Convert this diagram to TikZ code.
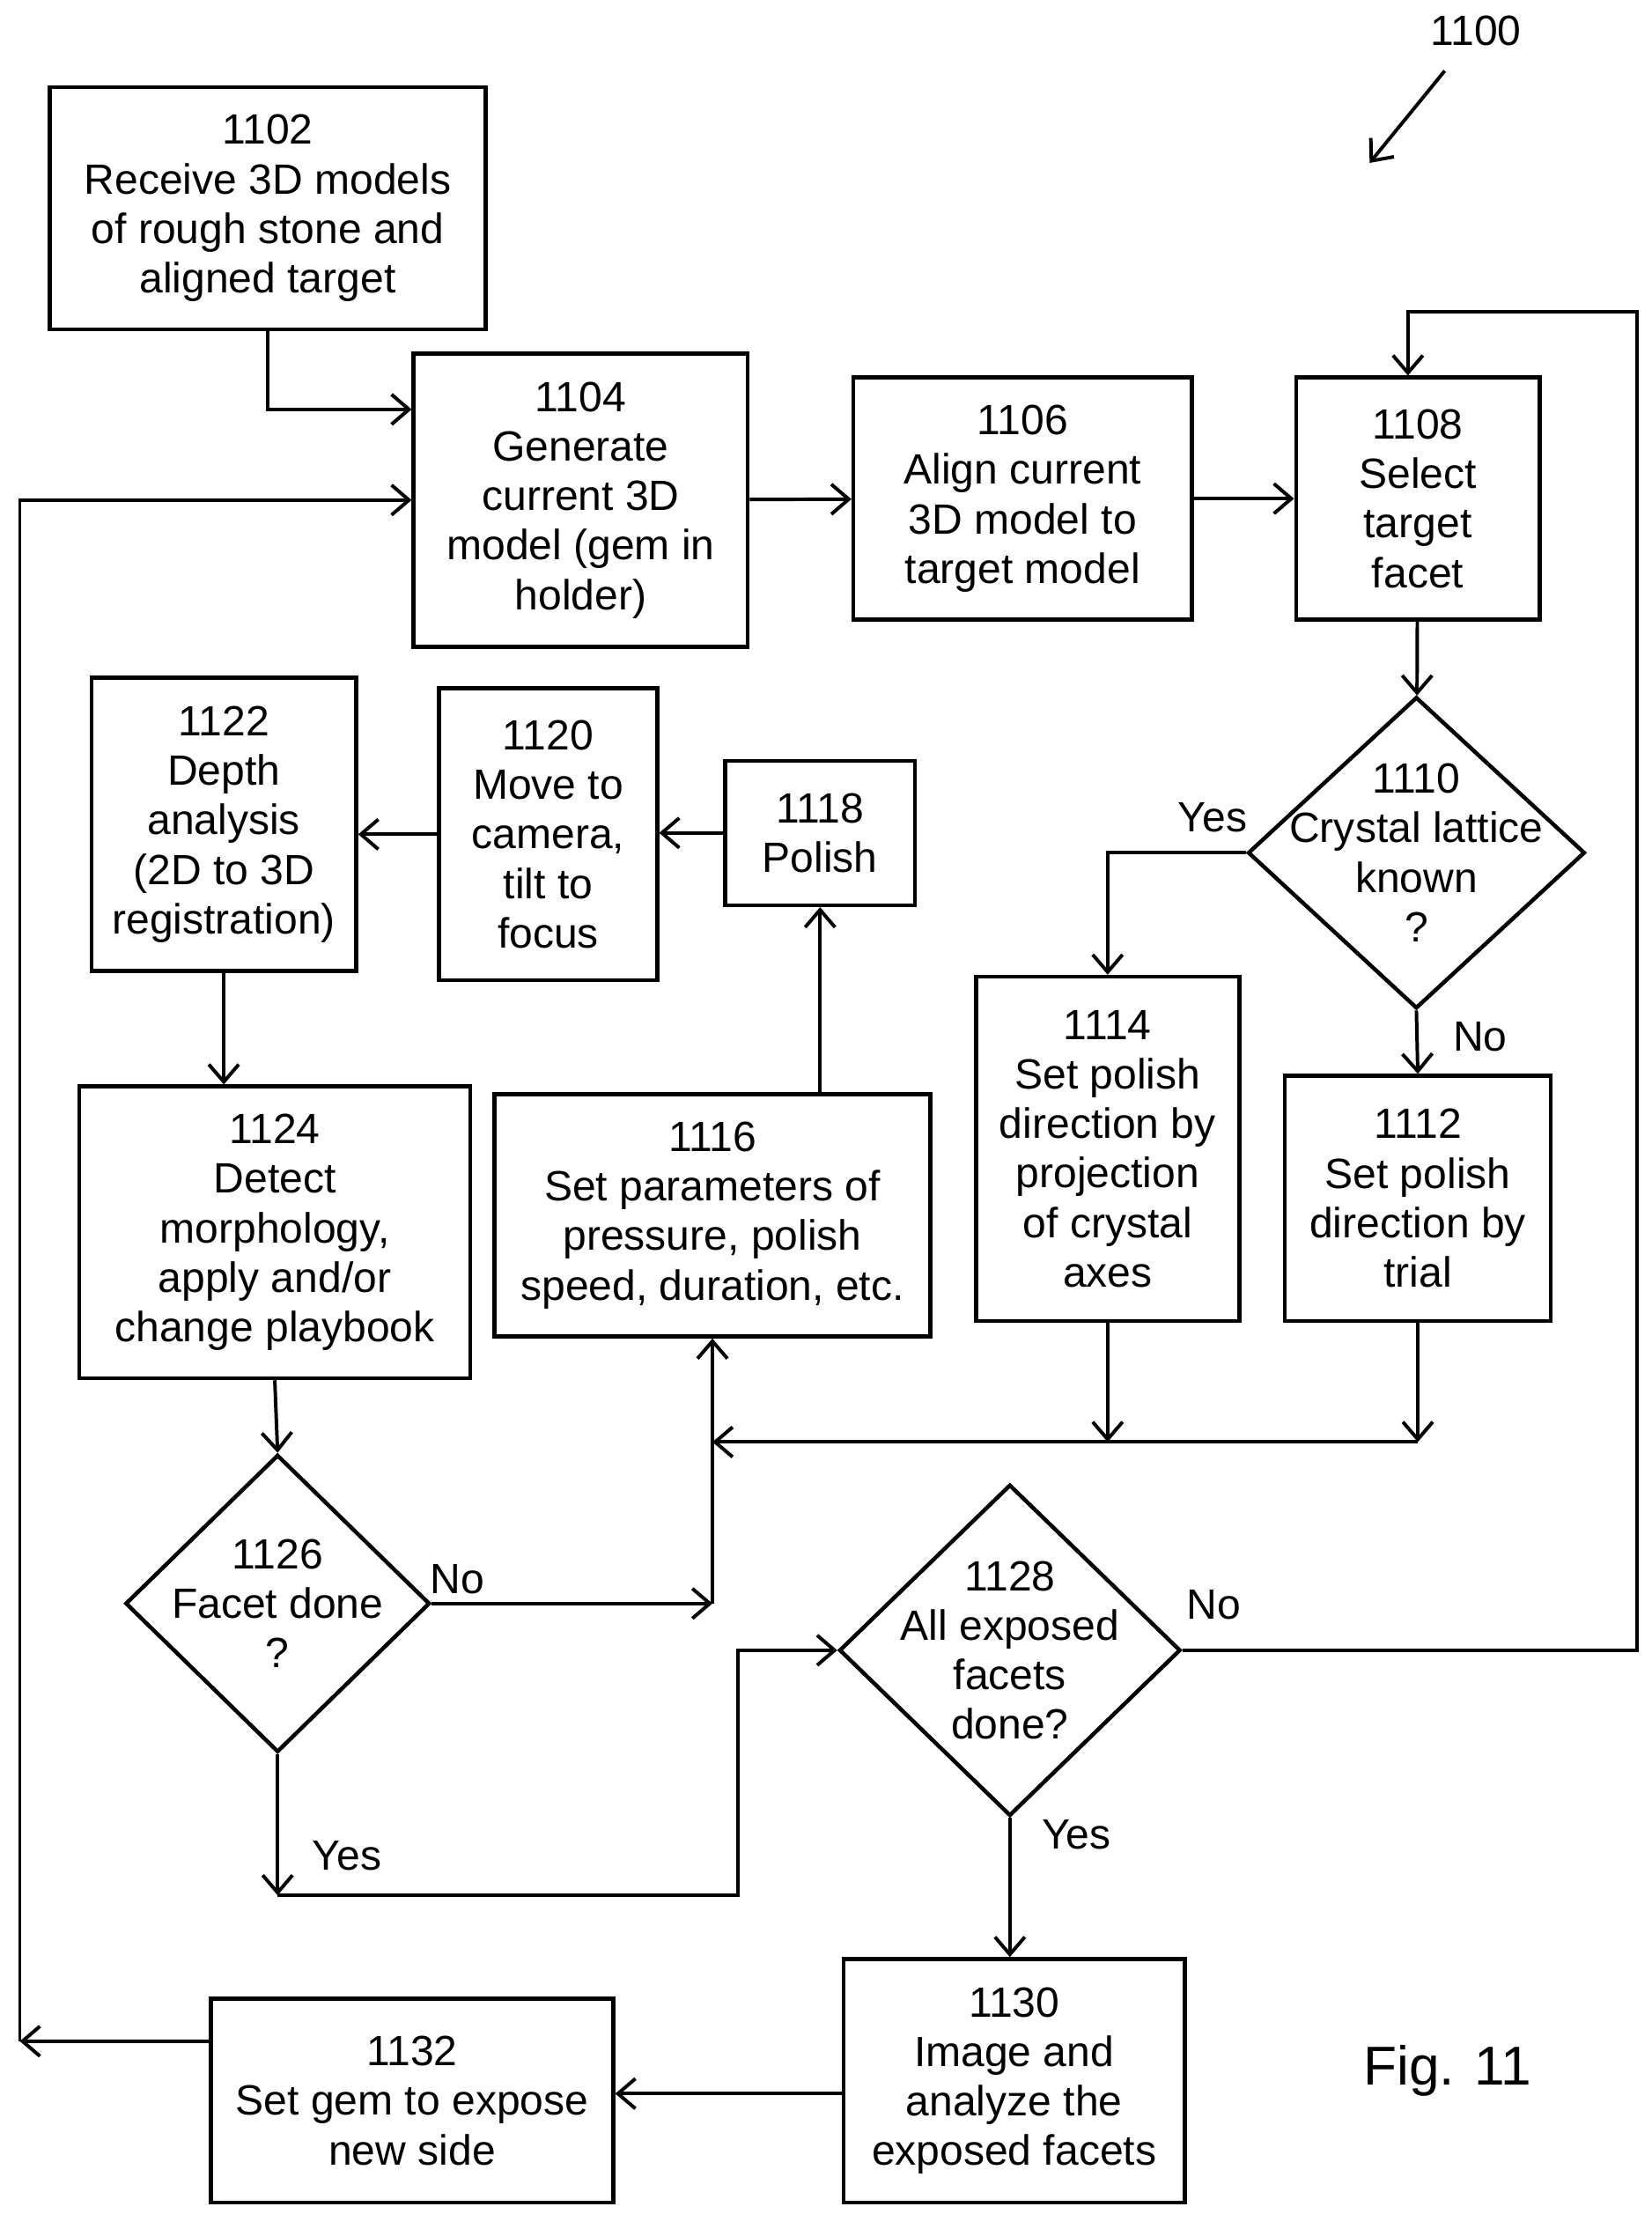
\documentclass[tikz,border=0pt]{standalone}
\usepackage{fontspec}
\setmainfont{Liberation Sans}
\usetikzlibrary{shapes.geometric,arrows.meta}

\tikzset{
  box/.style={draw, line width=1.6pt, align=center, inner sep=2pt},
  dia/.style={draw, diamond, line width=1.6pt, inner sep=0pt},
  arr/.style={-{Straight Barb[length=7pt,width=12pt,line width=1.4pt]}, line width=1.4pt},
  ln/.style={line width=1.4pt},
  lbl/.style={font=\fontsize{17}{19.9}\selectfont}
}

\begin{document}
\begin{tikzpicture}[x=0.02cm, y=-0.02cm, font=\fontsize{17}{19.9}\selectfont]
        \useasboundingbox (0,0) rectangle (1166,1563);

        % Top row of boxes
        \node[box, minimum width=6.16cm, minimum height=3.42cm] (b1102) at (189,147) {1102\\Receive 3D models\\of rough stone and\\aligned target};
        \node[box, minimum width=4.72cm, minimum height=4.14cm] (b1104) at (410,353) {1104\\Generate\\current 3D\\model (gem in\\holder)};
        \node[box, minimum width=4.78cm, minimum height=3.42cm] (b1106) at (722,352) {1106\\Align current\\3D model to\\target model};
        \node[box, minimum width=3.44cm, minimum height=3.42cm] (b1108) at (1001,352) {1108\\Select\\target\\facet};

        % Crystal lattice decision
        \node[dia, minimum width=4.76cm, minimum height=4.4cm] (d1110) at (1000,602) {};
        \node at (d1110) [align=center] {1110\\Crystal lattice\\known\\?};
        \node[box, minimum width=3.72cm, minimum height=4.86cm] (b1114) at (782,811) {1114\\Set polish\\direction by\\projection\\of crystal\\axes};
        \node[box, minimum width=3.76cm, minimum height=3.46cm] (b1112) at (1001,846) {1112\\Set polish\\direction by\\trial};

        % Middle row
        \node[box, minimum width=2.68cm, minimum height=2.04cm] (b1118) at (579,588) {1118\\Polish};
        \node[box, minimum width=3.08cm, minimum height=4.12cm] (b1120) at (387,589) {1120\\Move to\\camera,\\tilt to\\focus};
        \node[box, minimum width=3.74cm, minimum height=4.14cm] (b1122) at (158,582) {1122\\Depth\\analysis\\(2D to 3D\\registration)};
        \node[box, minimum width=5.52cm, minimum height=4.12cm] (b1124) at (194,870) {1124\\Detect\\morphology,\\apply and/or\\change playbook};
        \node[box, minimum width=6.16cm, minimum height=3.42cm] (b1116) at (503,858) {1116\\Set parameters of\\pressure, polish\\speed, duration, etc.};

        % Lower decisions
        \node[dia, minimum width=4.3cm, minimum height=4.2cm] (d1126) at (196,1132) {};
        \node at (d1126) [align=center] {1126\\Facet done\\?};
        \node[dia, minimum width=4.82cm, minimum height=4.68cm] (d1128) at (713,1165) {};
        \node at (d1128) [align=center] {1128\\All exposed\\facets\\done?};

        % Bottom row
        \node[box, minimum width=4.82cm, minimum height=3.44cm] (b1130) at (716,1469) {1130\\Image and\\analyze the\\exposed facets};
        \node[box, minimum width=5.68cm, minimum height=2.88cm] (b1132) at (291,1483) {1132\\Set gem to expose\\new side};

        % Labels
        \node[font=\fontsize{22}{24}\selectfont] (fig) at (1022,1462) {Fig. 11};
        \node (n1100) at (1042,22) {1100};
        \coordinate (s1100) at (1020,50);
        \coordinate (p1100) at (967,115);
        \node (yes1) at (856,577) {Yes};
        \node (no1) at (1045,732) {No};
        \node (no2) at (323,1115) {No};
        \node (yes2) at (245,1310) {Yes};
        \node (no3) at (857,1133) {No};
        \node (yes3) at (760,1295) {Yes};

        % Merge points
        \coordinate (m) at (503,1018);
        \coordinate (j) at (503,1132);
        \coordinate (c1) at (14,1441);
        \coordinate (c2) at (196,1338);

        % Arrows
        \draw[arr] (s1100) -- (p1100);
        \draw[arr] (b1102.south) |- ([yshift=1.28cm]b1104.west);
        \draw[arr] ([yshift=0.84cm]b1132.west) -- (c1);
        \draw[arr] (c1) |- (b1104.west);
        \draw[arr] (b1104) -- (b1106);
        \draw[arr] (b1106) -- (b1108);
        \draw[arr] (d1128.east) -| (1156,220) -| ([xshift=-0.14cm]b1108.north);
        \draw[arr] (b1108) -- (d1110);
        \draw[arr] (d1110.west) -| (b1114.north);
        \draw[arr] (d1110.south) -- (b1112.north);
        \draw[arr] (b1114.south) -- (b1114.south |- m);
        \draw[arr] (b1112.south) -- (b1112.south |- m);
        \draw[arr] (b1112.south |- m) -- (m);
        \draw[arr] (j) -- (b1116.south);
        \draw[arr] (d1126.east) -- (j);
        \draw[arr] (b1116.north -| b1118) -- (b1118.south);
        \draw[arr] (b1118.west) -- (b1118.west -| b1120.east);
        \draw[arr] (b1120.west) -- (b1120.west -| b1122.east);
        \draw[arr] (b1122.south) -- (b1122.south |- b1124.north);
        \draw[arr] (b1124.south) -- (d1126.north);
        \draw[arr] (d1126.south) -- (c2);
        \draw[arr] (c2) -| (521,1165) -- (d1128.west);
        \draw[arr] (d1128.south) -- (b1130.north -| d1128);
        \draw[arr] (b1130.west |- 0,1478) -- (b1132.east |- 0,1478);
\end{tikzpicture}
\end{document}
